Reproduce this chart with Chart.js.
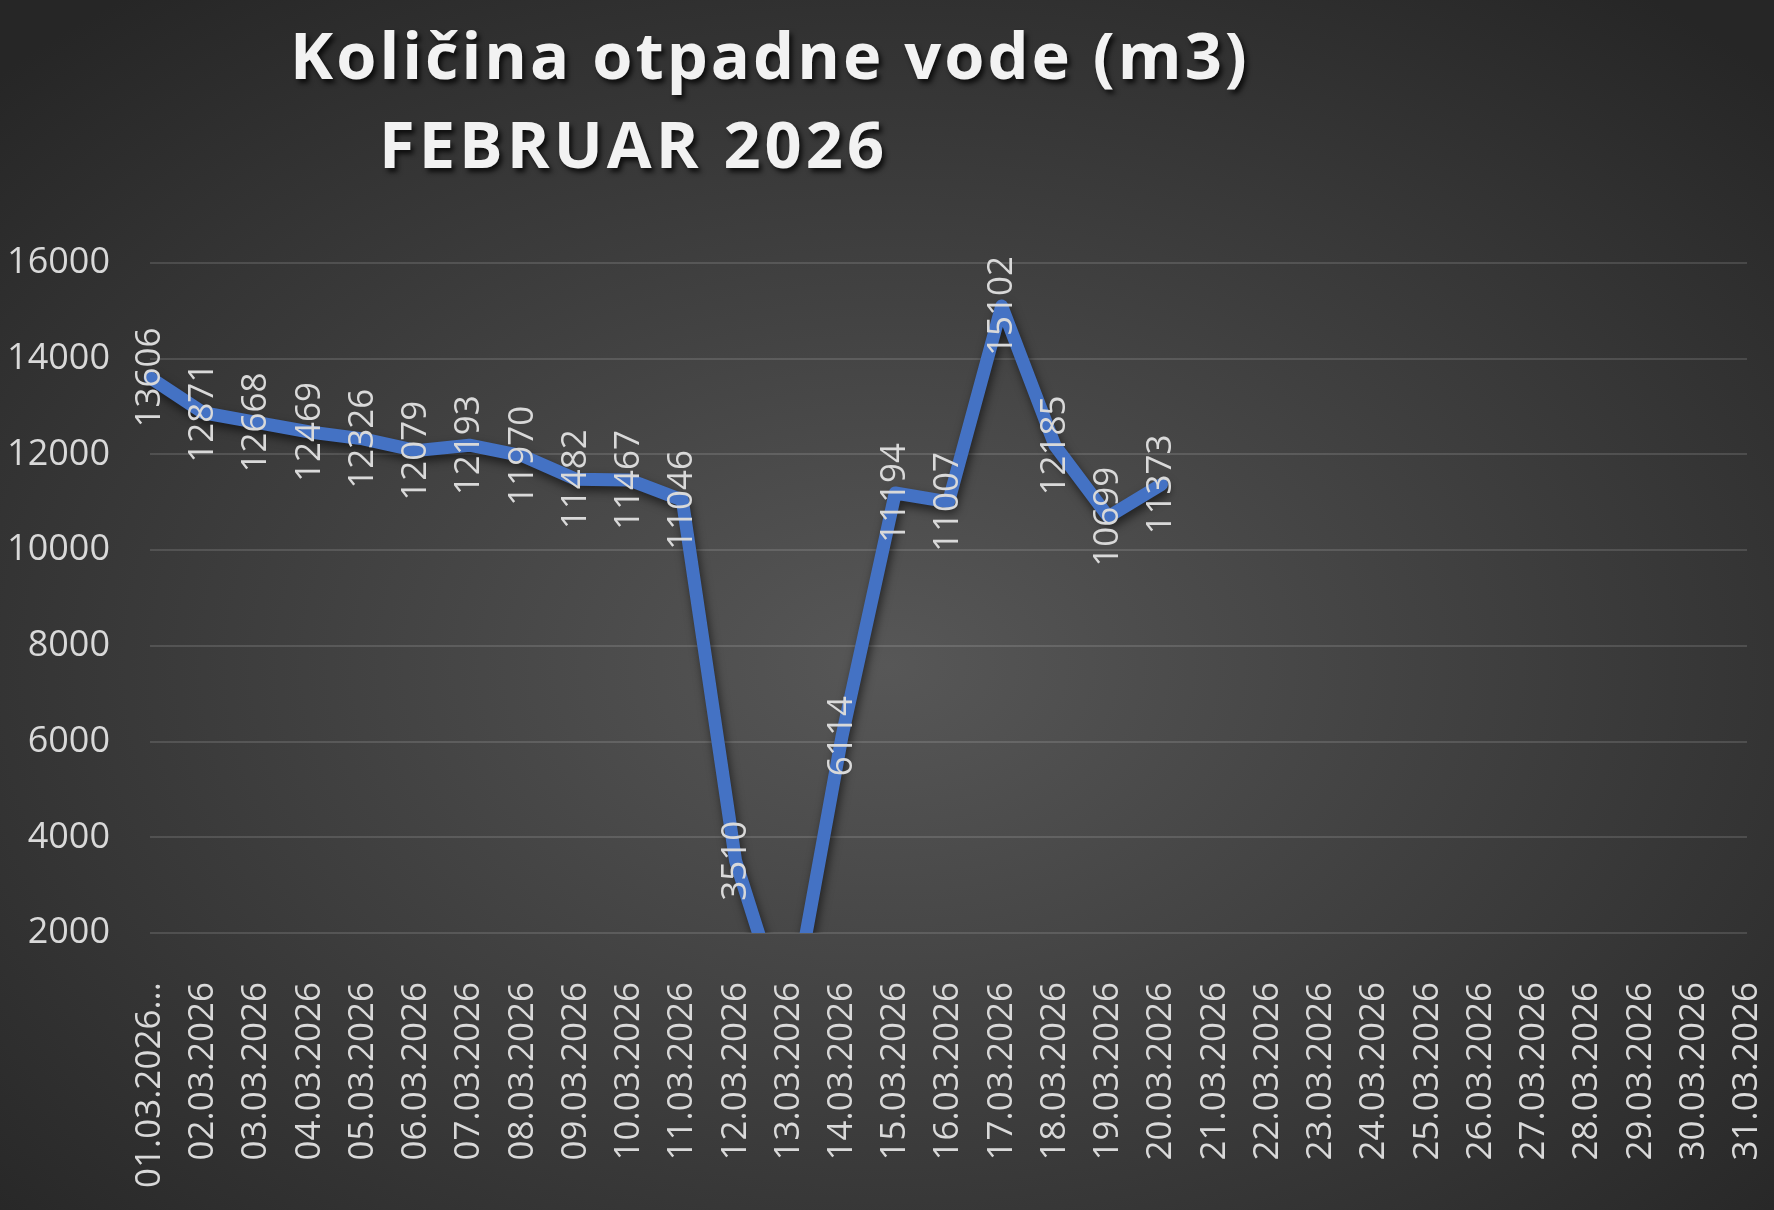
<!DOCTYPE html>
<html>
<head>
<meta charset="utf-8">
<script src="https://cdn.jsdelivr.net/npm/chart.js@4.4.1/dist/chart.umd.min.js"></script>
<style>
    html, body {
        margin: 0;
        padding: 0;
    }
    body {
        width: 1774px;
        height: 1210px;
        overflow: hidden;
        position: relative;
        background: radial-gradient(ellipse 70% 70% at 50% 55%, #575757 0%, #3c3c3c 55%, #262626 100%);
        font-family: 'Open Sans', sans-serif;
    }
    #wasteChart {
        position: absolute;
        left: 0;
        top: 0;
    }
    .title {
        position: absolute;
        color: #f2f2f2;
        font-weight: bold;
        font-size: 65px;
        line-height: 1;
        letter-spacing: 3px;
        white-space: pre;
        text-shadow: 3px 4px 5px rgba(0, 0, 0, 0.75);
    }
</style>
</head>
<body>
<div class="title" style="left: 290px; top: 22px;">Količina otpadne vode (m3)</div>
<div class="title" style="left: 379px; top: 111px; letter-spacing: 4px;">FEBRUAR 2026</div>
<canvas id="wasteChart" width="1774" height="1210"></canvas>
<script>
// Dates on the x axis
const dates = [
    '01.03.2026...', '02.03.2026', '03.03.2026', '04.03.2026', '05.03.2026',
    '06.03.2026', '07.03.2026', '08.03.2026', '09.03.2026', '10.03.2026',
    '11.03.2026', '12.03.2026', '13.03.2026', '14.03.2026', '15.03.2026',
    '16.03.2026', '17.03.2026', '18.03.2026', '19.03.2026', '20.03.2026',
    '21.03.2026', '22.03.2026', '23.03.2026', '24.03.2026', '25.03.2026',
    '26.03.2026', '27.03.2026', '28.03.2026', '29.03.2026', '30.03.2026',
    '31.03.2026'
];

// Daily waste water volume (m3); days without data are null
const volumes = [
    13606, 12871, 12668, 12469, 12326, 12079, 12193, 11970, 11482, 11467,
    11046, 3510, 0, 6114, 11194, 11007, 15102, 12185, 10699, 11373,
    null, null, null, null, null, null, null, null, null, null, null
];

const yTicks = [2000, 4000, 6000, 8000, 10000, 12000, 14000, 16000];

// Rotated value labels drawn centred on each point
const valueLabels = {
    id: 'valueLabels',
    afterDatasetsDraw(chart) {
        const ctx = chart.ctx;
        const meta = chart.getDatasetMeta(0);
        const yScale = chart.scales.y;
        ctx.save();
        ctx.font = '35px "Open Sans"';
        ctx.fillStyle = '#d9d9d9';
        ctx.textAlign = 'center';
        ctx.textBaseline = 'middle';
        meta.data.forEach((pt, i) => {
            const v = volumes[i];
            if (v === null || v < yScale.min || v > yScale.max) return;
            ctx.save();
            ctx.translate(pt.x, pt.y);
            ctx.rotate(-Math.PI / 2);
            ctx.fillText(String(v), 0, 0);
            ctx.restore();
        });
        ctx.restore();
    }
};

// Soft shadow under the line
const lineShadow = {
    id: 'lineShadow',
    beforeDatasetDraw(chart) {
        const ctx = chart.ctx;
        ctx.save();
        ctx.shadowColor = 'rgba(0, 0, 0, 0.55)';
        ctx.shadowBlur = 10;
        ctx.shadowOffsetX = 2;
        ctx.shadowOffsetY = 5;
    },
    afterDatasetDraw(chart) {
        chart.ctx.restore();
    }
};

const ctx = document.getElementById('wasteChart').getContext('2d');
new Chart(ctx, {
    type: 'line',
    data: {
        labels: dates,
        datasets: [{
            label: 'Količina otpadne vode (m3)',
            data: volumes,
            borderColor: '#4472c4',
            borderWidth: 13,
            borderJoinStyle: 'round',
            borderCapStyle: 'round',
            pointRadius: 0,
            pointHoverRadius: 0,
            tension: 0,
            spanGaps: false
        }]
    },
    options: {
        responsive: false,
        animation: false,
        devicePixelRatio: 1,
        layout: {
            padding: { top: 263, right: 27, bottom: 0, left: 0 }
        },
        plugins: {
            legend: { display: false },
            title: { display: false },
            tooltip: { enabled: false }
        },
        scales: {
            x: {
                offset: false,
                grid: { display: false, drawTicks: false },
                border: { display: false },
                ticks: {
                    color: '#d9d9d9',
                    font: { family: 'Open Sans', size: 35 },
                    minRotation: 90,
                    maxRotation: 90,
                    autoSkip: false,
                    padding: 49
                },
                afterFit(scale) {
                    scale.paddingLeft = 0;
                    scale.paddingRight = 0;
                    scale.height = 277;
                }
            },
            y: {
                min: 2000,
                max: 16000,
                afterBuildTicks(scale) {
                    scale.ticks = yTicks.map(v => ({ value: v }));
                },
                grid: {
                    color: 'rgba(255, 255, 255, 0.13)',
                    lineWidth: 2,
                    drawTicks: false
                },
                border: { display: false },
                ticks: {
                    color: '#d9d9d9',
                    font: { family: 'Open Sans', size: 36 },
                    padding: 40,
                    callback: value => String(value)
                },
                afterFit(scale) {
                    scale.paddingTop = 0;
                    scale.paddingBottom = 0;
                    scale.width = 150;
                }
            }
        }
    },
    plugins: [lineShadow, valueLabels]
});
</script>
</body>
</html>
